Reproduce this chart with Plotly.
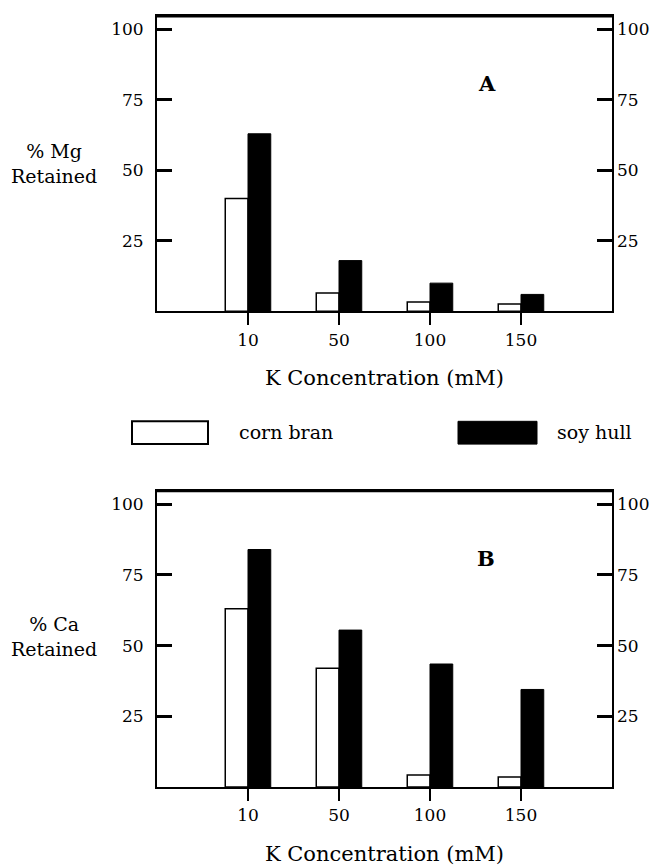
import plotly.graph_objects as go

# ---- data ----
categories = ["10", "50", "100", "150"]
mg_corn_bran = [40, 6.5, 3.3, 2.6]
mg_soy_hull = [63, 18, 10, 6]
ca_corn_bran = [63, 42, 4.2, 3.5]
ca_soy_hull = [84, 55.5, 43.5, 34.5]
y_ticks = [25, 50, 75, 100]
series_names = ["corn bran", "soy hull"]
x_title = "K Concentration (mM)"

OFF = 8  # page body margin
W, H = 659 - OFF, 868 - OFF
ML = 157 - OFF
MT = 14 - OFF
MR = W - (612 - OFF)
MB = H - (792 - OFF)
PW, PH = W - ML - MR, H - MT - MB

def px(x):
    return (x - OFF - ML) / PW

def py(y):
    return (H - MB - (y - OFF)) / PH

FONT = "DejaVu Serif"
YMAX = 104.8

fig = go.Figure()

def add_panel(corn, soy, xa, ya, yr):
    fig.add_trace(go.Bar(x=categories, y=corn, name=series_names[0], xaxis=xa, yaxis=ya,
                         marker=dict(color="white", line=dict(color="black", width=1.5)),
                         showlegend=False))
    fig.add_trace(go.Bar(x=categories, y=soy, name=series_names[1], xaxis=xa, yaxis=ya,
                         marker=dict(color="black", line=dict(color="black", width=1)),
                         showlegend=False))
    fig.add_trace(go.Scatter(x=[categories[0]], y=[0], xaxis=xa, yaxis=yr, mode="markers",
                             marker=dict(opacity=0), hoverinfo="skip", showlegend=False))

add_panel(mg_corn_bran, mg_soy_hull, "x", "y", "y2")
add_panel(ca_corn_bran, ca_soy_hull, "x2", "y3", "y4")

tickfont = dict(family=FONT, size=17, color="black")

def xax(anchor):
    return dict(anchor=anchor, domain=[0, 1], type="category", range=[-1, 4],
                showline=True, mirror=True, linewidth=2, linecolor="black",
                ticks="outside", ticklen=12, tickwidth=1.5, tickcolor="black",
                showgrid=False, zeroline=False, tickfont=tickfont,
                title=dict(text=x_title, font=dict(family=FONT, size=21, color="black"), standoff=22),
                fixedrange=True)

def yax_left(dom, anchor):
    return dict(anchor=anchor, domain=dom, range=[0, YMAX], tickvals=y_ticks,
                showline=True, mirror=True, linewidth=2, linecolor="black",
                ticks="inside", ticklen=15, tickwidth=2.5, tickcolor="black",
                showgrid=False, zeroline=False, tickfont=tickfont, ticklabelstandoff=8)

def yax_right(over, anchor):
    return dict(anchor=anchor, overlaying=over, side="right", range=[0, YMAX], tickvals=y_ticks,
                showline=False, ticks="inside", ticklen=15, tickwidth=2.5, tickcolor="black",
                showgrid=False, zeroline=False, tickfont=tickfont, ticklabelstandoff=4)

domA = [py(312), py(14)]
domB = [py(792), py(493)]

fig.update_layout(
    width=W, height=H,
    margin=dict(l=ML, r=MR, t=MT, b=MB),
    paper_bgcolor="white", plot_bgcolor="white",
    barmode="group", bargap=0.5, bargroupgap=0,
    xaxis=xax("y"),
    yaxis=yax_left(domA, "x"),
    yaxis2=yax_right("y", "x"),
    xaxis2=xax("y3"),
    yaxis3=yax_left(domB, "x2"),
    yaxis4=yax_right("y3", "x2"),
    showlegend=False,
)

ann_font = dict(family=FONT, size=19, color="black")
annotations = [
    dict(text="% Mg<br>Retained", x=px(54), y=py(163), xref="paper", yref="paper",
         xanchor="center", yanchor="middle", showarrow=False, font=ann_font, align="center"),
    dict(text="% Ca<br>Retained", x=px(54), y=py(640), xref="paper", yref="paper",
         xanchor="center", yanchor="middle", showarrow=False, font=ann_font, align="center"),
    dict(text="<b>A</b>", x=px(487), y=py(82), xref="paper", yref="paper",
         xanchor="center", yanchor="middle", showarrow=False,
         font=dict(family=FONT, size=21, color="black")),
    dict(text="<b>B</b>", x=px(486), y=py(561), xref="paper", yref="paper",
         xanchor="center", yanchor="middle", showarrow=False,
         font=dict(family=FONT, size=21, color="black")),
    dict(text=series_names[0], x=px(237), y=py(434), xref="paper", yref="paper",
         xanchor="left", yanchor="middle", showarrow=False, font=ann_font),
    dict(text=series_names[1], x=px(555), y=py(434), xref="paper", yref="paper",
         xanchor="left", yanchor="middle", showarrow=False, font=ann_font),
]
fig.update_layout(annotations=annotations)

shapes = [
    dict(type="rect", xref="paper", yref="paper", x0=px(132), x1=px(208), y0=py(446), y1=py(423),
         fillcolor="white", line=dict(color="black", width=2)),
    dict(type="rect", xref="paper", yref="paper", x0=px(458), x1=px(537), y0=py(446), y1=py(423),
         fillcolor="black", line=dict(color="black", width=1)),
    # heavier top frame lines
    dict(type="line", xref="x domain", yref="y domain", x0=0, x1=1, y0=1, y1=1,
         line=dict(color="black", width=3)),
    dict(type="line", xref="x2 domain", yref="y3 domain", x0=0, x1=1, y0=1, y1=1,
         line=dict(color="black", width=3)),
]
fig.update_layout(shapes=shapes)

fig.write_html("out.html")
